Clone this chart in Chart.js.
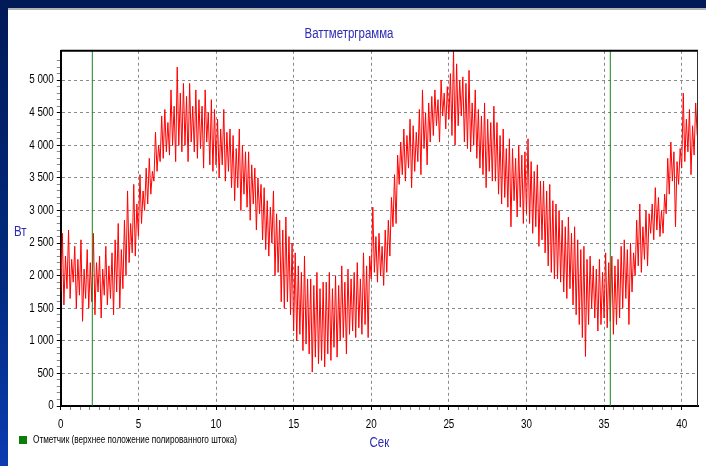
<!DOCTYPE html>
<html lang="ru">
<head>
<meta charset="utf-8">
<title>Ваттметрграмма</title>
<script src="https://cdn.jsdelivr.net/npm/chart.js@4.4.1/dist/chart.umd.min.js"></script>
<style>
  html, body { margin: 0; padding: 0; }
  body {
    width: 706px; height: 466px; overflow: hidden; position: relative;
    background: linear-gradient(to bottom, #011a58 0%, #022a80 60%, #0b3cb0 100%);
    font-family: 'Liberation Sans', Arial, sans-serif;
  }
  #panel { position: absolute; left: 8px; top: 8px; right: 0; bottom: 0; background: #fff; border-top: 2px solid #b4b4b4; }
  #chart-box { position: absolute; left: 0; top: 0; width: 706px; height: 466px; }
  .narrow { transform: scaleX(0.82); transform-origin: 0 50%; white-space: nowrap; }
  #y-title { position: absolute; left: 14px; top: 223px; color: #2d2db4; font-size: 14px; }
  #legend { position: absolute; left: 19px; top: 434px; font-size: 10px; color: #000; display: flex; align-items: center; }
  #legend .sw { width: 8px; height: 8px; background: #0b7d0b; margin-right: 6px; flex: none; }
</style>
</head>
<body>
<div id="panel"></div>
<div id="chart-box"><canvas id="wattChart" width="706" height="466"></canvas></div>
<div id="y-title" class="narrow"></div>
<div id="legend"><span class="sw"></span><span id="legend-text" class="narrow"></span></div>

<script>
// --- Chart texts ---
const CHART_TITLE = 'Ваттметрграмма';
const X_TITLE = 'Сек';
const Y_TITLE = 'Вт';
const MARKER_LABEL = 'Отметчик (верхнее положение полированного штока)';

// --- Data: power samples every 0.1 s (W) ---
const SAMPLE_STEP = 0.1;
const powerW = [
  1750, 2650, 1550, 2300, 1800, 2700, 1650, 2250, 1900, 2450,
  1500, 2250, 1700, 2550, 1300, 2100, 1650, 2400, 1500, 2200,
  1600, 2650, 1400, 2200, 1750, 2300, 1350, 2100, 1700, 2450,
  1550, 2150, 1650, 2350, 1400, 2550, 1750, 2800, 1500, 2400,
  1800, 2850, 2000, 3300, 2200, 2800, 2350, 3400, 2300, 3100,
  2600, 3550, 2800, 3300, 3000, 3650, 3100, 3800, 3250, 3600,
  3450, 4200, 3600, 4000, 3750, 4450, 3800, 4550, 3900, 4350,
  3850, 4850, 4000, 4600, 3750, 5200, 4000, 4800, 3900, 4950,
  4000, 4750, 3750, 4950, 4050, 4600, 3900, 4850, 3800, 4700,
  3950, 4600, 3650, 4850, 4050, 4500, 3700, 4700, 3600, 4550,
  3700, 4400, 3500, 4250, 3700, 4550, 3450, 4200, 3600, 4250,
  3350, 4150, 3150, 3950, 3350, 4250, 3000, 4000, 3250, 3900,
  3050, 3900, 2850, 3700, 3100, 3650, 2700, 3500, 2950, 3400,
  2550, 3350, 2400, 3150, 2300, 3050, 2500, 3300, 2000, 2950,
  2050, 2850, 1600, 2700, 1500, 2900, 1600, 2600, 1400, 2500,
  1150, 2350, 1000, 2150, 1100, 2050,  850, 2300,  950, 1950,
   800, 1950,  520, 1850,  750, 2050,  650, 1800,  700, 1900,
   600, 1900,  800, 2050,  700, 1800,  900, 2000,  750, 1850,
  1000, 2150, 1050, 1900,  800, 2100, 1100, 1950, 1150, 2050,
  1050, 2200, 1200, 1950, 1100, 2350, 1250, 2150, 1050, 2300,
  1950, 3050, 2050, 2600, 1900, 2650, 2000, 2450, 1850, 2700,
  2050, 2850, 2300, 3200, 2750, 3550, 2800, 3850, 3400, 4050,
  3550, 4250, 3450, 4150, 3650, 4400, 3350, 4300, 3600, 4200,
  3750, 4550, 3550, 4850, 3950, 4500, 3700, 4650, 4050, 4750,
  4150, 4850, 4300, 4700, 4050, 5000, 4450, 4800, 4250, 4900,
  4400, 5100, 4150, 5450, 4000, 5250, 4300, 5000, 4450, 5050,
  4050, 4950, 3950, 5150, 3900, 4650, 4000, 4850, 3800, 4550,
  3650, 4450, 3550, 4650, 3350, 4400, 3600, 4350, 3450, 4600,
  3450, 4350, 3250, 4150, 3100, 4250, 3200, 3950, 3050, 4100,
  2750, 3950, 3150, 3800, 2900, 4000, 3050, 3850, 2800, 3900,
  2950, 4100, 2800, 3750, 2650, 3600, 2750, 3700, 2450, 3450,
  2550, 3450, 2350, 3300, 2150, 3400, 2050, 3150, 1950, 3100,
  1950, 3000, 1900, 2850, 1750, 2750, 1650, 2900, 1800, 2650,
  1550, 2750, 1400, 2550, 1250, 2400, 1050, 2450,  760, 2250,
  1250, 2300, 1500, 2150, 1350, 2100, 1150, 2250, 1250, 2050,
  1350, 2350, 1200, 2200, 1300, 2300, 1100, 2150, 1250, 2250,
  1350, 2450, 1500, 2550, 1650, 2400, 1250, 2500, 1750, 2350,
  2000, 2850, 2150, 3100, 2050, 2750, 2250, 3000, 2150, 2950,
  2650, 3100, 2550, 3350, 2700, 3200, 2600, 3000, 2650, 3250,
  2950, 3800, 3250, 4050, 3450, 3900, 2750, 3750, 3400, 3950,
  3650, 4800, 3750, 4400, 3900, 4550, 3550, 4300, 3850, 4650,
  4150
];

// marker (polished rod top position), seconds
const markerTimes = [2.03, 35.4];

// axes
const X_MAX = 41.05;
const Y_MAX = 5450;
const X_MAJOR = 5;
const X_MINOR = 0.625;
const Y_MAJOR = 500;
const Y_MINOR = 100;

// the original uses a narrow typeface; squeeze canvas text horizontally
const NARROW = 0.82;

// --- Helpers ---
function isMultiple(v, step) {
  const r = v / step;
  return Math.abs(r - Math.round(r)) < 1e-6;
}

function formatWatts(v) {
  return String(v).replace(/\B(?=(\d{3})+(?!\d))/g, ' ');
}

const powerPoints = powerW.map((w, i) => ({ x: +(i * SAMPLE_STEP).toFixed(2), y: w }));

const markerSets = markerTimes.map(t => ({
  label: MARKER_LABEL,
  data: [{ x: t, y: 0 }, { x: t, y: Y_MAX }],
  borderColor: '#17861a',
  borderWidth: 1,
  pointRadius: 0,
  order: 0
}));

// top + right edges of the plot box
const plotFrame = {
  id: 'plotFrame',
  afterDraw(chart) {
    const { ctx, chartArea: a } = chart;
    ctx.save();
    ctx.strokeStyle = '#000';
    ctx.lineWidth = 2;
    ctx.beginPath();
    ctx.moveTo(a.left, a.top);
    ctx.lineTo(a.right, a.top);
    ctx.stroke();
    ctx.lineWidth = 1;
    ctx.strokeStyle = '#333';
    ctx.beginPath();
    ctx.moveTo(a.right - 0.5, a.top);
    ctx.lineTo(a.right - 0.5, a.bottom);
    ctx.stroke();
    ctx.restore();
  }
};

document.getElementById('y-title').textContent = Y_TITLE;
document.getElementById('legend-text').textContent = MARKER_LABEL;

const canvas = document.getElementById('wattChart');
const ctx2d = canvas.getContext('2d');
const rawFillText = ctx2d.fillText.bind(ctx2d);
ctx2d.fillText = function (text, x, y) {
  this.save();
  this.translate(x, y);
  this.scale(NARROW, 1);
  rawFillText(text, 0, 0);
  this.restore();
};

Chart.defaults.font.family = "'Liberation Sans', Arial, sans-serif";
Chart.defaults.font.size = 12;

new Chart(canvas, {
  type: 'line',
  data: {
    datasets: [
      {
        label: 'Вт',
        data: powerPoints,
        borderColor: '#ff0000',
        borderWidth: 1,
        pointRadius: 0,
        tension: 0,
        order: 1
      },
      ...markerSets
    ]
  },
  options: {
    responsive: false,
    animation: false,
    events: [],
    layout: { padding: { top: 26, left: 0, right: 8, bottom: 10 } },
    plugins: {
      legend: { display: false },
      tooltip: { enabled: false },
      title: {
        display: true,
        text: CHART_TITLE,
        color: '#2d2db4',
        font: { size: 14, weight: 'normal' },
        padding: { top: 0, bottom: 8 }
      }
    },
    scales: {
      x: {
        type: 'linear',
        min: 0,
        max: X_MAX,
        afterBuildTicks: s => { s.ticks = s.ticks.filter(t => isMultiple(t.value, X_MINOR)); },
        afterFit: s => { s.height = 50; },
        ticks: {
          stepSize: X_MINOR,
          autoSkip: false,
          maxRotation: 0,
          padding: 7,
          color: '#000',
          callback: v => isMultiple(v, X_MAJOR) ? String(Math.round(v)) : ''
        },
        grid: {
          color: c => (c.tick && isMultiple(c.tick.value, X_MAJOR) && c.tick.value > 0) ? '#8a8a8a' : 'rgba(0,0,0,0)',
          tickColor: c => (c.tick && isMultiple(c.tick.value, X_MAJOR)) ? '#000' : '#888',
          tickLength: 4,
          lineWidth: 1
        },
        border: { color: '#000', width: 2, dash: [3, 3] },
        title: {
          display: true,
          text: X_TITLE,
          color: '#2d2db4',
          font: { size: 14 },
          padding: { top: 0, bottom: 4 }
        }
      },
      y: {
        min: 0,
        max: Y_MAX,
        afterBuildTicks: s => { s.ticks = s.ticks.filter(t => isMultiple(t.value, Y_MINOR)); },
        afterFit: s => { s.width = 60.8; },
        ticks: {
          stepSize: Y_MINOR,
          autoSkip: false,
          padding: 3,
          color: '#000',
          callback: v => isMultiple(v, Y_MAJOR) ? formatWatts(v) : ''
        },
        grid: {
          color: c => (c.tick && isMultiple(c.tick.value, Y_MAJOR) && c.tick.value > 0) ? '#8a8a8a' : 'rgba(0,0,0,0)',
          tickColor: c => (c.tick && isMultiple(c.tick.value, Y_MAJOR)) ? '#000' : '#888',
          tickLength: 4,
          lineWidth: 1
        },
        border: { color: '#000', width: 2, dash: [3, 3] }
      }
    }
  },
  plugins: [plotFrame]
});
</script>
</body>
</html>
